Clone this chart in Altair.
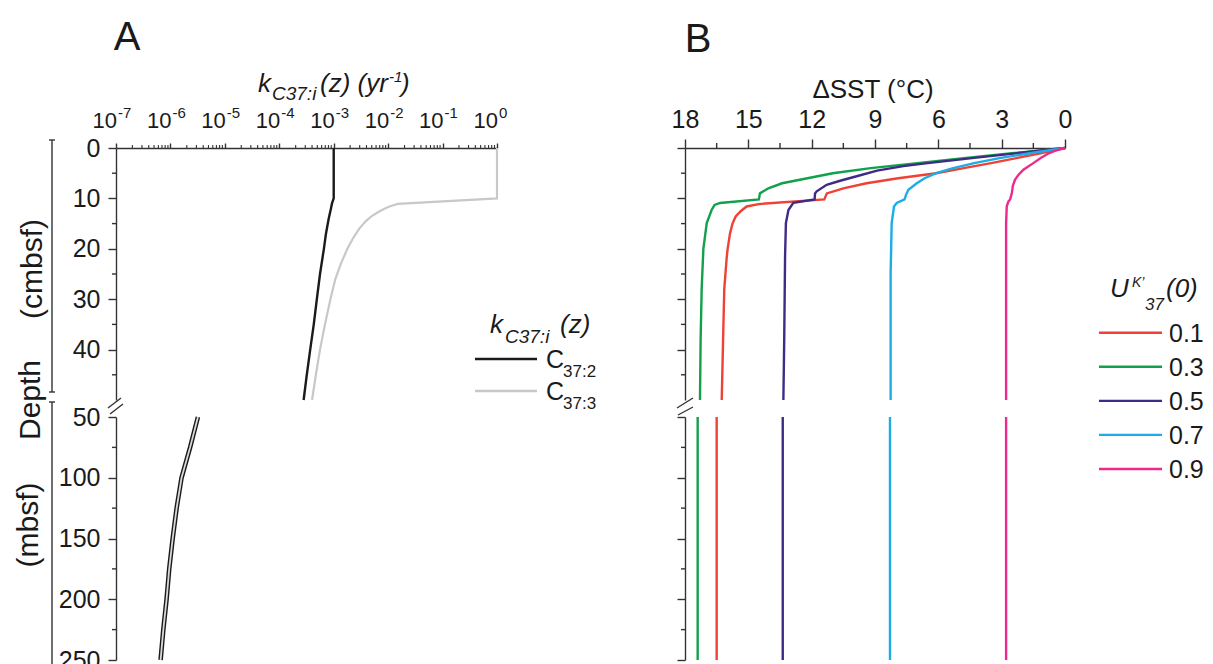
import altair as alt
import pandas as pd

FONT = "Liberation Sans"
INK = "#1a1a1a"
AXC = "#333333"

# ---------------- Panel A : k_C37:i(z) (yr^-1) ----------------
A_SERIES = ["C37:2", "C37:3"]
A_SUBS = ["37:2", "37:3"]
A_COLORS = ["#1a1a1a", "#c8c8c8"]

# upper section, depth in cmbsf
A_UP_DEPTH_C372 = [0, 10, 11, 12, 14, 17, 20, 25, 30, 35, 40, 45, 50]
A_UP_K_C372 = [1.0e-3, 1.0e-3, 9.3e-4, 8.9e-4, 8.1e-4, 7.2e-4, 6.6e-4, 5.6e-4, 4.9e-4,
               4.3e-4, 3.7e-4, 3.2e-4, 2.8e-4]
A_UP_DEPTH_C373 = [0, 10, 11.1, 11.5, 12, 12.7, 13.5, 14.5, 16, 18, 20, 23, 26, 30, 35, 40, 45, 50]
A_UP_K_C373 = [1.0, 1.0, 1.5e-2, 1.12e-2, 8.7e-3, 6.6e-3, 5.0e-3, 3.9e-3, 2.95e-3, 2.24e-3,
               1.78e-3, 1.35e-3, 1.07e-3, 8.7e-4, 6.9e-4, 5.6e-4, 4.7e-4, 4.0e-4]
# lower section, depth in mbsf
A_LO_DEPTH = [50, 75, 100, 125, 150, 175, 200, 225, 250]
A_LO_K_C372 = [3.2e-6, 2.3e-6, 1.6e-6, 1.3e-6, 1.1e-6, 9.5e-7, 8.5e-7, 7.4e-7, 6.6e-7]
A_LO_K_C373 = [3.2e-6, 2.3e-6, 1.6e-6, 1.3e-6, 1.1e-6, 9.5e-7, 8.5e-7, 7.4e-7, 6.6e-7]

A_DECADES = [1e-7, 1e-6, 1e-5, 1e-4, 1e-3, 1e-2, 1e-1, 1e0]
A_EXPONENTS = ["-7", "-6", "-5", "-4", "-3", "-2", "-1", "0"]

# ---------------- Panel B : delta SST ----------------
U_LABELS = ["0.1", "0.3", "0.5", "0.7", "0.9"]
U_COLORS = ["#ef4136", "#12a04c", "#3f2a86", "#1baee5", "#ec2a8e"]

B_UP_DEPTH_01 = [0, 1, 2, 3, 4, 5, 6, 7, 8, 9, 10.2, 11.1, 11.6, 12.5, 13.6, 15, 17, 20, 22, 28, 37, 50]
B_UP_DSST_01 = [0, 1.1, 2.3, 3.5, 4.8, 6.1, 7.9, 9.4, 10.5, 11.28, 11.4, 14.45, 15.08, 15.35, 15.6,
                15.75, 15.87, 15.98, 16.03, 16.14, 16.19, 16.26]
B_UP_DEPTH_03 = [0, 1, 2, 3, 4, 5, 6, 7, 8, 9, 10.2, 10.9, 11.3, 12.3, 14.9, 20, 28, 38, 50]
B_UP_DSST_03 = [0, 2.4, 4.8, 7.0, 9.2, 11.0, 12.2, 13.4, 14.05, 14.45, 14.5, 16.34, 16.6, 16.74,
                16.97, 17.13, 17.21, 17.26, 17.29]
B_UP_DEPTH_05 = [0, 1, 2, 3, 3.6, 4.5, 5.6, 6.5, 7.3, 8.6, 9.0, 10.2, 10.9, 12.3, 14.9, 21.5, 38, 50]
B_UP_DSST_05 = [0, 2.2, 4.4, 6.5, 7.66, 8.9, 9.87, 10.65, 11.29, 11.76, 11.84, 11.86, 12.87, 13.1,
                13.22, 13.26, 13.3, 13.34]
B_UP_DEPTH_07 = [0, 1, 2, 3, 4, 5, 6, 7, 8.3, 9.3, 10.2, 10.9, 11.6, 14.9, 25, 50]
B_UP_DSST_07 = [0, 1.6, 3.1, 4.3, 5.3, 6.1, 6.65, 7.02, 7.42, 7.53, 7.6, 7.97, 8.1, 8.21, 8.26, 8.26]
B_UP_DEPTH_09 = [0, 0.5, 1, 2, 3, 4.3, 5.3, 6.3, 7.5, 9, 10.2, 10.6, 11.6, 15, 50]
B_UP_DSST_09 = [0, 0.45, 0.75, 1.15, 1.5, 1.97, 2.2, 2.37, 2.47, 2.52, 2.6, 2.68, 2.76, 2.79, 2.79]

B_LO_DEPTH = [50, 250]
B_LO_DSST_01 = [16.5, 16.5]
B_LO_DSST_03 = [17.4, 17.4]
B_LO_DSST_05 = [13.37, 13.37]
B_LO_DSST_07 = [8.29, 8.29]
B_LO_DSST_09 = [2.79, 2.79]

B_X_VALUES = [0, 3, 6, 9, 12, 15, 18]
B_X_MINOR = [1.5, 4.5, 7.5, 10.5, 13.5, 16.5]
UP_Y_VALUES = [0, 10, 20, 30, 40]
UP_Y_MINOR = [5, 15, 25, 35, 45]
LO_Y_VALUES = [50, 100, 150, 200, 250]
LO_Y_MINOR = [75, 125, 175, 225]

# ---------------- layout (pixels inside the view) ----------------
W, H = 1197, 656
AX0, AX1 = 108, 489      # panel A x range
BX0, BX1 = 677, 1057     # panel B x range
UY0, UY1 = 140, 392      # upper depth range
LY0, LY1 = 409, 652      # lower depth range


def xa():
    return alt.Scale(type="log", domain=[1e-7, 1], range=[AX0, AX1], nice=False)


def xb():
    return alt.Scale(domain=[0, 18], range=[BX1, BX0], nice=False, zero=False)


def yu():
    return alt.Scale(domain=[0, 50], range=[UY0, UY1], nice=False, zero=False)


def yl():
    return alt.Scale(domain=[50, 250], range=[LY0, LY1], nice=False, zero=False)


COMMON = dict(domainColor=AXC, tickColor=AXC, labelColor=INK, labelFont=FONT,
              domainWidth=1.4, tickWidth=1.4, grid=False, title=None,
              labelFlush=False, labelOverlap=False)

ONE = pd.DataFrame({"_": [0]})


def txt(s, x, y, size, italic=False, align="left", baseline="alphabetic", angle=None):
    kw = dict(text=s, fontSize=size, font=FONT, align=align, baseline=baseline, color=INK,
              fontStyle="italic" if italic else "normal")
    if angle is not None:
        kw["angle"] = angle
    return alt.Chart(ONE).mark_text(**kw).encode(x=alt.value(x), y=alt.value(y))


def seg(x1, y1, x2, y2, w=1.4, color=AXC):
    return alt.Chart(ONE).mark_rule(strokeWidth=w, color=color).encode(
        x=alt.value(x1), y=alt.value(y1), x2=alt.value(x2), y2=alt.value(y2))


layers = []

# ---------- Panel A lines ----------
dfa_up3 = pd.DataFrame({"depth": A_UP_DEPTH_C373, "k": A_UP_K_C373})
dfa_up2 = pd.DataFrame({"depth": A_UP_DEPTH_C372, "k": A_UP_K_C372})
dfa_lo2 = pd.DataFrame({"depth": A_LO_DEPTH, "k": A_LO_K_C372})
dfa_lo3 = pd.DataFrame({"depth": A_LO_DEPTH, "k": A_LO_K_C373})

layers.append(alt.Chart(dfa_up3).mark_line(color=A_COLORS[1], strokeWidth=2.2).encode(
    x=alt.X("k:Q", scale=xa(), axis=alt.Axis(orient="top", offset=-UY0, values=A_DECADES,
                                              tickSize=5, labels=False, **COMMON)),
    y=alt.Y("depth:Q", scale=yu(), axis=alt.Axis(orient="left", offset=-AX0, values=UP_Y_VALUES,
                                                 tickSize=8, labelFontSize=25, labelPadding=8,
                                                 **COMMON)),
    order="depth:Q"))
layers.append(alt.Chart(dfa_up2).mark_line(color=A_COLORS[0], strokeWidth=2.4).encode(
    x=alt.X("k:Q", scale=xa(), axis=None),
    y=alt.Y("depth:Q", scale=yu(), axis=None),
    order="depth:Q"))
layers.append(alt.Chart(dfa_lo2).mark_line(color=A_COLORS[0], strokeWidth=4.6).encode(
    x=alt.X("k:Q", scale=xa(), axis=None),
    y=alt.Y("depth:Q", scale=yl(), axis=alt.Axis(orient="left", offset=-AX0, values=LO_Y_VALUES,
                                                 tickSize=8, labelFontSize=25, labelPadding=8,
                                                 **COMMON)),
    order="depth:Q"))
layers.append(alt.Chart(dfa_lo3).mark_line(color="#d9d9d9", strokeWidth=1.8).encode(
    x=alt.X("k:Q", scale=xa(), axis=None),
    y=alt.Y("depth:Q", scale=yl(), axis=None),
    order="depth:Q"))

# minor ticks panel A
a_minor = pd.DataFrame({"v": [m * d for d in A_DECADES[:-1] for m in range(2, 10)]})
layers.append(alt.Chart(a_minor).mark_rule(color=AXC, strokeWidth=1.1).encode(
    x=alt.X("v:Q", scale=xa(), axis=None), y=alt.value(UY0), y2=alt.value(UY0 - 3)))
layers.append(alt.Chart(pd.DataFrame({"v": UP_Y_MINOR})).mark_rule(color=AXC, strokeWidth=1.4).encode(
    y=alt.Y("v:Q", scale=yu(), axis=None), x=alt.value(AX0), x2=alt.value(AX0 - 4)))
layers.append(alt.Chart(pd.DataFrame({"v": LO_Y_MINOR})).mark_rule(color=AXC, strokeWidth=1.4).encode(
    y=alt.Y("v:Q", scale=yl(), axis=None), x=alt.value(AX0), x2=alt.value(AX0 - 4)))

# top tick labels panel A (10 with superscript exponent)
dec_df = pd.DataFrame({"v": A_DECADES, "e": A_EXPONENTS})
layers.append(alt.Chart(dec_df).mark_text(text="10", font=FONT, fontSize=22, align="right",
                                          baseline="alphabetic", color=INK, dx=1).encode(
    x=alt.X("v:Q", scale=xa(), axis=None), y=alt.value(120)))
layers.append(alt.Chart(dec_df).mark_text(font=FONT, fontSize=15, align="left",
                                          baseline="alphabetic", color=INK, dx=2).encode(
    x=alt.X("v:Q", scale=xa(), axis=None), y=alt.value(110), text="e:N"))

# ---------- Panel B lines ----------
up_rows = []
for lab, ds, vs in zip(U_LABELS,
                       [B_UP_DEPTH_01, B_UP_DEPTH_03, B_UP_DEPTH_05, B_UP_DEPTH_07, B_UP_DEPTH_09],
                       [B_UP_DSST_01, B_UP_DSST_03, B_UP_DSST_05, B_UP_DSST_07, B_UP_DSST_09]):
    for d, v in zip(ds, vs):
        up_rows.append({"u": lab, "depth": d, "dsst": v})
dfb_up = pd.DataFrame(up_rows)
lo_rows = []
for lab, vs in zip(U_LABELS, [B_LO_DSST_01, B_LO_DSST_03, B_LO_DSST_05, B_LO_DSST_07, B_LO_DSST_09]):
    for d, v in zip(B_LO_DEPTH, vs):
        lo_rows.append({"u": lab, "depth": d, "dsst": v})
dfb_lo = pd.DataFrame(lo_rows)


def ucolor():
    return alt.Color("u:N", scale=alt.Scale(domain=U_LABELS, range=U_COLORS), legend=None)


layers.append(alt.Chart(dfb_up).mark_line(strokeWidth=2.4).encode(
    x=alt.X("dsst:Q", scale=xb(), axis=alt.Axis(orient="top", offset=-UY0, values=B_X_VALUES,
                                                tickSize=9, labelFontSize=25, labelPadding=7,
                                                **COMMON)),
    y=alt.Y("depth:Q", scale=yu(), axis=alt.Axis(orient="left", offset=-BX0, values=UP_Y_VALUES,
                                                 tickSize=8, labels=False, **COMMON)),
    color=ucolor(), order="depth:Q"))
layers.append(alt.Chart(dfb_lo).mark_line(strokeWidth=2.4).encode(
    x=alt.X("dsst:Q", scale=xb(), axis=None),
    y=alt.Y("depth:Q", scale=yl(), axis=alt.Axis(orient="left", offset=-BX0, values=LO_Y_VALUES,
                                                 tickSize=8, labels=False, **COMMON)),
    color=ucolor(), order="depth:Q"))

# minor ticks panel B
layers.append(alt.Chart(pd.DataFrame({"v": B_X_MINOR})).mark_rule(color=AXC, strokeWidth=1.4).encode(
    x=alt.X("v:Q", scale=xb(), axis=None), y=alt.value(UY0), y2=alt.value(UY0 - 5)))
layers.append(alt.Chart(pd.DataFrame({"v": UP_Y_MINOR})).mark_rule(color=AXC, strokeWidth=1.4).encode(
    y=alt.Y("v:Q", scale=yu(), axis=None), x=alt.value(BX0), x2=alt.value(BX0 - 4)))
layers.append(alt.Chart(pd.DataFrame({"v": LO_Y_MINOR})).mark_rule(color=AXC, strokeWidth=1.4).encode(
    y=alt.Y("v:Q", scale=yl(), axis=None), x=alt.value(BX0), x2=alt.value(BX0 - 4)))

# ---------- axis breaks ----------
layers += [seg(100, 400, 113, 390), seg(102, 406, 115, 396),
           seg(669, 400, 685, 390), seg(670, 407, 685, 399)]

# ---------- depth title with brackets ----------
layers += [seg(44, 132, 44, 384), seg(41, 132, 47, 132), seg(41, 384, 47, 384),
           seg(44, 394, 44, 670), seg(41, 394, 47, 394)]
layers += [txt("(cmbsf)", 25, 261, 30, align="center", baseline="middle", angle=270),
           txt("Depth", 23, 392, 30, align="center", baseline="middle", angle=270),
           txt("(mbsf)", 21, 517, 30, align="center", baseline="middle", angle=270)]

# ---------- panel letters ----------
layers += [txt("A", 119, 42, 40, align="center"), txt("B", 690, 44, 40, align="center")]

# ---------- axis titles ----------
layers += [txt("k", 250, 84, 26, italic=True),
           txt("C37:i", 264, 92, 19, italic=True),
           txt("(z) (yr", 312, 84, 26, italic=True),
           txt("-1", 381, 74, 15, italic=True),
           txt(")", 393, 84, 26, italic=True)]
layers += [txt("\u0394SST (\u00b0C)", 865, 90, 26, align="center")]

# ---------- legend panel A ----------
leg_a = pd.DataFrame({"s": A_SERIES, "sub": A_SUBS})
ya_leg = alt.Y("s:N", scale=alt.Scale(type="point", domain=A_SERIES, range=[351, 383], padding=0),
               axis=None)
layers.append(alt.Chart(leg_a).mark_rule(strokeWidth=2.4).encode(
    y=ya_leg, x=alt.value(467), x2=alt.value(529),
    color=alt.Color("s:N", scale=alt.Scale(domain=A_SERIES, range=A_COLORS), legend=None)))
layers.append(alt.Chart(leg_a).mark_text(text="C", font=FONT, fontSize=25, align="left",
                                         baseline="middle", color=INK, dy=1).encode(
    y=ya_leg, x=alt.value(538)))
layers.append(alt.Chart(leg_a).mark_text(font=FONT, fontSize=17, align="left",
                                         baseline="alphabetic", color=INK, dy=18).encode(
    y=ya_leg, x=alt.value(555), text="sub:N"))
layers += [txt("k", 482, 325, 26, italic=True),
           txt("C37:i", 497, 335, 19, italic=True),
           txt("(z)", 552, 325, 26, italic=True)]

# ---------- legend panel B ----------
leg_b = pd.DataFrame({"u": U_LABELS})
yb_leg = alt.Y("u:N", scale=alt.Scale(type="point", domain=U_LABELS, range=[324.7, 461], padding=0),
               axis=None)
layers.append(alt.Chart(leg_b).mark_rule(strokeWidth=2.4).encode(
    y=yb_leg, x=alt.value(1091), x2=alt.value(1154), color=ucolor()))
layers.append(alt.Chart(leg_b).mark_text(font=FONT, fontSize=25, align="left",
                                         baseline="middle", color=INK, dy=1).encode(
    y=yb_leg, x=alt.value(1161), text="u:N"))
layers += [txt("U", 1102, 289, 26, italic=True),
           txt("K\u2019", 1124, 279, 14, italic=True),
           txt("37", 1137, 302, 17, italic=True),
           txt("(0)", 1158, 289, 26, italic=True)]

chart = alt.layer(*layers).resolve_scale(
    x="independent", y="independent", color="independent"
).properties(
    width=W, height=H, padding=0, autosize=alt.AutoSizeParams(type="none"),
    background="white"
).configure_view(stroke=None)

chart.save("out.html", embed_options={"renderer": "svg", "actions": False})
